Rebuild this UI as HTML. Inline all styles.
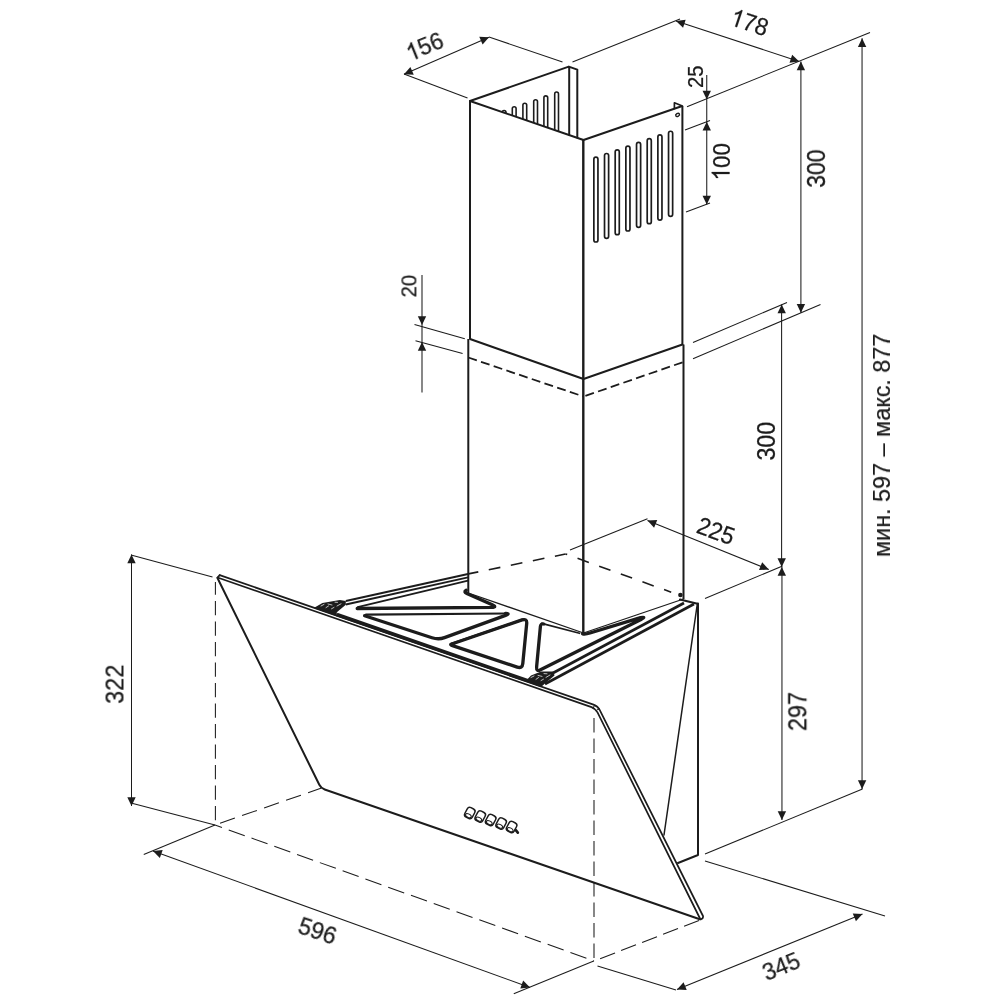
<!DOCTYPE html>
<html><head><meta charset="utf-8"><title>Hood dimensions</title>
<style>
html,body{margin:0;padding:0;background:#fff;}
body{width:1000px;height:1000px;overflow:hidden;}
svg{display:block;font-family:"Liberation Sans",sans-serif;}
</style></head><body>
<svg width="1000" height="1000" viewBox="0 0 1000 1000">
<rect width="1000" height="1000" fill="#fff"/>
<line x1="404" y1="74" x2="467.5" y2="98" stroke="#1c1c1c" stroke-width="1.05" stroke-linecap="butt"/>
<line x1="489" y1="37" x2="562.5" y2="62" stroke="#1c1c1c" stroke-width="1.05" stroke-linecap="butt"/>
<line x1="404" y1="74.3" x2="489" y2="37.2" stroke="#1c1c1c" stroke-width="1.05" stroke-linecap="butt"/>
<polygon points="404.00,74.30 410.39,66.93 413.75,74.63" fill="#1c1c1c"/>
<polygon points="489.00,37.20 482.61,44.57 479.25,36.87" fill="#1c1c1c"/>
<line x1="572.5" y1="62" x2="680" y2="19" stroke="#1c1c1c" stroke-width="1.05" stroke-linecap="butt"/>
<line x1="687" y1="106.7" x2="870" y2="32.5" stroke="#1c1c1c" stroke-width="1.05" stroke-linecap="butt"/>
<line x1="676" y1="21" x2="799.2" y2="61.4" stroke="#1c1c1c" stroke-width="1.05" stroke-linecap="butt"/>
<polygon points="676.00,21.00 685.67,19.76 683.05,27.74" fill="#1c1c1c"/>
<polygon points="799.20,61.40 789.53,62.64 792.15,54.66" fill="#1c1c1c"/>
<line x1="706.75" y1="75" x2="706.75" y2="204.5" stroke="#1c1c1c" stroke-width="1.05" stroke-linecap="butt"/>
<polygon points="706.75,99.50 702.55,90.70 710.95,90.70" fill="#1c1c1c"/>
<polygon points="706.75,121.75 710.95,130.55 702.55,130.55" fill="#1c1c1c"/>
<polygon points="706.75,204.50 702.55,195.70 710.95,195.70" fill="#1c1c1c"/>
<line x1="685" y1="130" x2="710" y2="120.5" stroke="#1c1c1c" stroke-width="1.05" stroke-linecap="butt"/>
<line x1="686" y1="212" x2="710" y2="203" stroke="#1c1c1c" stroke-width="1.05" stroke-linecap="butt"/>
<line x1="800.9" y1="61.4" x2="800.9" y2="312.8" stroke="#1c1c1c" stroke-width="1.05" stroke-linecap="butt"/>
<polygon points="800.90,61.40 805.10,70.20 796.70,70.20" fill="#1c1c1c"/>
<polygon points="800.90,312.80 796.70,304.00 805.10,304.00" fill="#1c1c1c"/>
<line x1="693" y1="358.75" x2="820.5" y2="304.5" stroke="#1c1c1c" stroke-width="1.05" stroke-linecap="butt"/>
<line x1="781.6" y1="304.4" x2="781.6" y2="567" stroke="#1c1c1c" stroke-width="1.05" stroke-linecap="butt"/>
<line x1="781.95" y1="567" x2="781.95" y2="820" stroke="#1c1c1c" stroke-width="1.05" stroke-linecap="butt"/>
<polygon points="781.70,304.40 785.90,313.20 777.50,313.20" fill="#1c1c1c"/>
<polygon points="781.70,567.00 777.50,558.20 785.90,558.20" fill="#1c1c1c"/>
<polygon points="781.80,567.00 786.00,575.80 777.60,575.80" fill="#1c1c1c"/>
<polygon points="781.90,820.00 777.70,811.20 786.10,811.20" fill="#1c1c1c"/>
<line x1="693" y1="342.5" x2="787" y2="302.5" stroke="#1c1c1c" stroke-width="1.05" stroke-linecap="butt"/>
<line x1="862.05" y1="38.2" x2="862.05" y2="789" stroke="#1c1c1c" stroke-width="1.05" stroke-linecap="butt"/>
<polygon points="862.10,38.20 866.30,47.00 857.90,47.00" fill="#1c1c1c"/>
<polygon points="862.10,789.00 857.90,780.20 866.30,780.20" fill="#1c1c1c"/>
<line x1="705" y1="854" x2="862.5" y2="789" stroke="#1c1c1c" stroke-width="1.05" stroke-linecap="butt"/>
<line x1="570" y1="550" x2="647.5" y2="518.75" stroke="#1c1c1c" stroke-width="1.05" stroke-linecap="butt"/>
<line x1="647.5" y1="520.5" x2="768.75" y2="569.5" stroke="#1c1c1c" stroke-width="1.05" stroke-linecap="butt"/>
<polygon points="647.50,520.50 657.23,519.90 654.09,527.69" fill="#1c1c1c"/>
<polygon points="768.75,569.50 759.02,570.10 762.16,562.31" fill="#1c1c1c"/>
<line x1="705" y1="598.5" x2="782.5" y2="566" stroke="#1c1c1c" stroke-width="1.05" stroke-linecap="butt"/>
<line x1="422" y1="275" x2="422" y2="392.5" stroke="#1c1c1c" stroke-width="1.05" stroke-linecap="butt"/>
<polygon points="422.00,325.00 417.80,316.20 426.20,316.20" fill="#1c1c1c"/>
<polygon points="422.00,342.00 426.20,350.80 417.80,350.80" fill="#1c1c1c"/>
<line x1="414.5" y1="324.4" x2="464.8" y2="338.7" stroke="#1c1c1c" stroke-width="1.05" stroke-linecap="butt"/>
<line x1="415.5" y1="340.7" x2="462.6" y2="353.6" stroke="#1c1c1c" stroke-width="1.05" stroke-linecap="butt"/>
<line x1="131.5" y1="554.5" x2="131.5" y2="806" stroke="#1c1c1c" stroke-width="1.05" stroke-linecap="butt"/>
<polygon points="131.50,554.50 135.70,563.30 127.30,563.30" fill="#1c1c1c"/>
<polygon points="131.50,806.00 127.30,797.20 135.70,797.20" fill="#1c1c1c"/>
<line x1="131" y1="555" x2="212.5" y2="577" stroke="#1c1c1c" stroke-width="1.05" stroke-linecap="butt"/>
<line x1="131" y1="803" x2="215" y2="825" stroke="#1c1c1c" stroke-width="1.05" stroke-linecap="butt"/>
<line x1="153" y1="851" x2="530" y2="987.5" stroke="#1c1c1c" stroke-width="1.05" stroke-linecap="butt"/>
<polygon points="153.00,851.00 162.70,850.05 159.84,857.94" fill="#1c1c1c"/>
<polygon points="530.00,987.50 520.30,988.45 523.16,980.56" fill="#1c1c1c"/>
<line x1="143.75" y1="854.5" x2="215" y2="825" stroke="#1c1c1c" stroke-width="1.05" stroke-linecap="butt"/>
<line x1="513.75" y1="993.75" x2="593.75" y2="961" stroke="#1c1c1c" stroke-width="1.05" stroke-linecap="butt"/>
<line x1="677" y1="989.5" x2="862.5" y2="914" stroke="#1c1c1c" stroke-width="1.05" stroke-linecap="butt"/>
<polygon points="677.00,989.50 683.57,982.29 686.73,990.07" fill="#1c1c1c"/>
<polygon points="862.50,914.00 855.93,921.21 852.77,913.43" fill="#1c1c1c"/>
<line x1="597.5" y1="966" x2="676" y2="990" stroke="#1c1c1c" stroke-width="1.05" stroke-linecap="butt"/>
<line x1="705" y1="861" x2="885" y2="916" stroke="#1c1c1c" stroke-width="1.05" stroke-linecap="butt"/>
<line x1="215.4" y1="581.9" x2="215.4" y2="821" stroke="#1c1c1c" stroke-width="1.05" stroke-dasharray="14.3 6.2" stroke-dashoffset="1.5"/>
<line x1="215" y1="825" x2="594" y2="961" stroke="#1c1c1c" stroke-width="1.05" stroke-dasharray="17 7.2" stroke-dashoffset="9.6"/>
<line x1="321.5" y1="788" x2="215" y2="825" stroke="#1c1c1c" stroke-width="1.05" stroke-dasharray="15.7 7.6" stroke-dashoffset="1.5"/>
<line x1="594" y1="718" x2="594" y2="960" stroke="#1c1c1c" stroke-width="1.05" stroke-dasharray="14.4 6.1" stroke-dashoffset="0"/>
<line x1="699" y1="920.5" x2="594" y2="961" stroke="#1c1c1c" stroke-width="1.05" stroke-dasharray="16 6.5" stroke-dashoffset="0"/>
<path d="M470,101 L470,339 M468.3,339 L468.3,593 M682.4,106 L682.4,344.5 M683.5,344.5 L683.5,599" fill="none" stroke="#1c1c1c" stroke-width="2.0" stroke-linejoin="round" stroke-linecap="butt" />
<path d="M583.3,140 L583.3,633" fill="none" stroke="#1c1c1c" stroke-width="2.4" stroke-linejoin="round" stroke-linecap="butt" />
<path d="M470,101 L568.8,66.6 L577.3,69.6 L577.3,137.6 M569.2,67 L569.2,134.8" fill="none" stroke="#1c1c1c" stroke-width="2.0" stroke-linejoin="round" stroke-linecap="round" />
<path d="M470,101 L583.5,140 L681.5,106.2" fill="none" stroke="#1c1c1c" stroke-width="2.0" stroke-linejoin="round" stroke-linecap="round" />
<path d="M674.4,108.4 L674.4,102.8 L682.4,106" fill="none" stroke="#1c1c1c" stroke-width="1.7" stroke-linejoin="round" stroke-linecap="round" />
<ellipse cx="677.6" cy="114.9" rx="2.0" ry="1.5" transform="rotate(-30 677.6 114.9)" fill="none" stroke="#1c1c1c" stroke-width="1.4"/>
<path d="M470,339 L583.5,379 L682.4,344.5" fill="none" stroke="#1c1c1c" stroke-width="2.0" stroke-linejoin="round" stroke-linecap="round" />
<path d="M468.3,357.5 L583.5,396.5" fill="none" stroke="#1c1c1c" stroke-width="1.8" stroke-linejoin="round" stroke-linecap="butt" stroke-dasharray="9 4.4" />
<path d="M583.5,396.5 L683.5,362" fill="none" stroke="#1c1c1c" stroke-width="1.8" stroke-linejoin="round" stroke-linecap="butt" stroke-dasharray="9 4.4" stroke-dashoffset="-2"/>
<path d="M468.3,593 L583.5,633 L683.5,599" fill="none" stroke="#1c1c1c" stroke-width="1.3" stroke-linejoin="round" stroke-linecap="round" />
<rect x="593.85" y="157.20" width="4.1" height="84.80" rx="2.05" fill="none" stroke="#1c1c1c" stroke-width="1.7"/>
<rect x="604.52" y="153.49" width="4.1" height="84.85" rx="2.05" fill="none" stroke="#1c1c1c" stroke-width="1.7"/>
<rect x="615.19" y="149.78" width="4.1" height="84.90" rx="2.05" fill="none" stroke="#1c1c1c" stroke-width="1.7"/>
<rect x="625.86" y="146.07" width="4.1" height="84.95" rx="2.05" fill="none" stroke="#1c1c1c" stroke-width="1.7"/>
<rect x="636.53" y="142.36" width="4.1" height="85.00" rx="2.05" fill="none" stroke="#1c1c1c" stroke-width="1.7"/>
<rect x="647.20" y="138.65" width="4.1" height="85.05" rx="2.05" fill="none" stroke="#1c1c1c" stroke-width="1.7"/>
<rect x="657.87" y="134.94" width="4.1" height="85.10" rx="2.05" fill="none" stroke="#1c1c1c" stroke-width="1.7"/>
<rect x="668.54" y="131.23" width="4.1" height="85.15" rx="2.05" fill="none" stroke="#1c1c1c" stroke-width="1.7"/>
<clipPath id="cl"><polygon points="470,101 568.8,66.6 568.8,134.6"/></clipPath>
<g clip-path="url(#cl)">
<rect x="502.20" y="110.50" width="3.8" height="60" rx="1.9" fill="none" stroke="#1c1c1c" stroke-width="1.6"/>
<rect x="512.30" y="106.70" width="3.8" height="60" rx="1.9" fill="none" stroke="#1c1c1c" stroke-width="1.6"/>
<rect x="522.90" y="103.20" width="3.8" height="60" rx="1.9" fill="none" stroke="#1c1c1c" stroke-width="1.6"/>
<rect x="533.70" y="99.70" width="3.8" height="60" rx="1.9" fill="none" stroke="#1c1c1c" stroke-width="1.6"/>
<rect x="543.90" y="95.90" width="3.8" height="60" rx="1.9" fill="none" stroke="#1c1c1c" stroke-width="1.6"/>
<rect x="554.70" y="92.00" width="3.8" height="60" rx="1.9" fill="none" stroke="#1c1c1c" stroke-width="1.6"/>
</g>
<line x1="468.4" y1="573.9" x2="565.5" y2="554" stroke="#1c1c1c" stroke-width="1.6" stroke-dasharray="11.8 10.7" stroke-dashoffset="1.7"/>
<line x1="565.5" y1="554" x2="671.2" y2="592.2" stroke="#1c1c1c" stroke-width="1.6" stroke-dasharray="12 11" stroke-dashoffset="10.2"/>
<line x1="345.8" y1="601" x2="468" y2="574" stroke="#1c1c1c" stroke-width="1.8" stroke-linecap="butt"/>
<line x1="345.8" y1="604.5" x2="468" y2="577.4" stroke="#1c1c1c" stroke-width="1.8" stroke-linecap="butt"/>
<path d="M468,580.6 L357.6,607.2" fill="none" stroke="#1c1c1c" stroke-width="1.8" stroke-linejoin="round" stroke-linecap="round" />
<path d="M357.2,608.5 L491.5,607.3 Q497.5,607.2 492.3,604.8 L466.8,593.4 Q463.3,591.8 466.2,590.3" fill="none" stroke="#1c1c1c" stroke-width="3.3" stroke-linejoin="round" stroke-linecap="round" />
<path d="M366,614.6 L506,613.5" fill="none" stroke="#1c1c1c" stroke-width="2.1" stroke-linejoin="round" stroke-linecap="round" />
<path d="M364.6,615.8 L432,637.7 Q438.5,639.8 444.5,637.6 L505.5,615.4 Q510.8,613.4 505.5,613.5" fill="none" stroke="#1c1c1c" stroke-width="3.3" stroke-linejoin="round" stroke-linecap="round" />
<path d="M452,643.6 L523.5,619.4" fill="none" stroke="#1c1c1c" stroke-width="2.3" stroke-linejoin="round" stroke-linecap="round" />
<path d="M451,644.2 L522,619.9 Q527.2,618.3 526.7,623.5 L522.8,663.5 Q522.3,668.8 517.2,667.1 L452.5,645.6 Q449.5,644.6 451.6,644" fill="none" stroke="#1c1c1c" stroke-width="3.3" stroke-linejoin="round" stroke-linecap="round" />
<path d="M541.6,623.4 L579.5,633.3" fill="none" stroke="#1c1c1c" stroke-width="1.7" stroke-linejoin="round" stroke-linecap="round" />
<path d="M582.6,633.8 Q585.5,634.4 590,633 L640.5,617.7 Q646.5,616.2 641.5,619.2 L540.5,669.8 Q536.2,672 536.6,667 L540.4,626.5 Q540.7,623.3 543.8,624" fill="none" stroke="#1c1c1c" stroke-width="3.3" stroke-linejoin="round" stroke-linecap="round" />
<line x1="553" y1="673" x2="684" y2="603" stroke="#1c1c1c" stroke-width="2.7" stroke-linecap="butt"/>
<line x1="545" y1="684" x2="694" y2="604" stroke="#1c1c1c" stroke-width="2.7" stroke-linecap="butt"/>
<path d="M680,599.5 L697.5,603.8" fill="none" stroke="#1c1c1c" stroke-width="2.2" stroke-linejoin="round" stroke-linecap="round" />
<circle cx="680.4" cy="595" r="2.3" fill="#1c1c1c"/>
<path d="M219.7,575.13 L593.5,704.65 Q597.8,706.2 599.8,710.2 L703,916 Q703.6,918.6 700.8,919.4" fill="none" stroke="#1c1c1c" stroke-width="1.7" stroke-linejoin="round" stroke-linecap="round" />
<path d="M217.5,577.56 L591.5,707.15 Q595.6,708.7 597.5,712.4 L700,918.5" fill="none" stroke="#1c1c1c" stroke-width="1.7" stroke-linejoin="round" stroke-linecap="round" />
<path d="M217.5,577.56 L219.7,575.13" fill="none" stroke="#1c1c1c" stroke-width="1.7" stroke-linejoin="round" stroke-linecap="round" />
<path d="M594.5,705.3 L593.2,708 M599.2,708.8 L596.6,710.2" fill="none" stroke="#1c1c1c" stroke-width="1.0" stroke-linejoin="round" stroke-linecap="round" />
<path d="M336.8,614.50 L540,684.91" fill="none" stroke="#1c1c1c" stroke-width="3.5" stroke-linejoin="round" stroke-linecap="butt" />
<polygon points="314.6,607.41 322.4,603 339.8,600 345.8,600.9 345.8,604.8 336.8,612.3 336.8,616.20 314.6,608.51" fill="#1c1c1c"/>
<path d="M321,606 L324,604.4 M326,607.6 L328.5,606 M331.5,608.8 L334,607.4 M337,606 L341,603.8 M328,604 L332,605 M335,602.2 L337.5,602.4" fill="none" stroke="#fff" stroke-width="0.7" stroke-linejoin="round" stroke-linecap="round" />
<polygon points="526,680.76 531,675.6 541,671.6 553.5,671.6 554.5,675.6 545,683.4 541,686.96" fill="#1c1c1c"/>
<path d="M531,677.5 L534,676 M536,679.3 L538.5,677.6 M541,680.6 L543.5,679.2 M546,677.4 L550,675 M538,675.4 L542,676.4 M544,673.6 L547,673.8" fill="none" stroke="#fff" stroke-width="0.7" stroke-linejoin="round" stroke-linecap="round" />
<path d="M217.6,578.2 L319.3,784.8 Q321,788.3 324.7,789.5 L699.8,919.3" fill="none" stroke="#1c1c1c" stroke-width="2.0" stroke-linejoin="round" stroke-linecap="round" />
<path d="M698,603.5 L698,855 L678,863" fill="none" stroke="#1c1c1c" stroke-width="2.0" stroke-linejoin="round" stroke-linecap="round" />
<path d="M697.3,604 L664,835" fill="none" stroke="#1c1c1c" stroke-width="1.5" stroke-linejoin="round" stroke-linecap="round" />
<g transform="translate(469.80,813.00) rotate(28)"><rect x="-4.2" y="-5.3" width="8.4" height="10.6" rx="2.8" fill="#fff" stroke="#1c1c1c" stroke-width="1.5"/><ellipse cx="0" cy="3" rx="3.1" ry="1.7" fill="none" stroke="#1c1c1c" stroke-width="1.0"/></g>
<g transform="translate(480.25,816.50) rotate(28)"><rect x="-4.2" y="-5.3" width="8.4" height="10.6" rx="2.8" fill="#fff" stroke="#1c1c1c" stroke-width="1.5"/><ellipse cx="0" cy="3" rx="3.1" ry="1.7" fill="none" stroke="#1c1c1c" stroke-width="1.0"/></g>
<g transform="translate(490.70,820.00) rotate(28)"><rect x="-4.2" y="-5.3" width="8.4" height="10.6" rx="2.8" fill="#fff" stroke="#1c1c1c" stroke-width="1.5"/><ellipse cx="0" cy="3" rx="3.1" ry="1.7" fill="none" stroke="#1c1c1c" stroke-width="1.0"/></g>
<g transform="translate(501.15,823.50) rotate(28)"><rect x="-4.2" y="-5.3" width="8.4" height="10.6" rx="2.8" fill="#fff" stroke="#1c1c1c" stroke-width="1.5"/><ellipse cx="0" cy="3" rx="3.1" ry="1.7" fill="none" stroke="#1c1c1c" stroke-width="1.0"/></g>
<g transform="translate(511.60,827.00) rotate(28)"><rect x="-4.2" y="-5.3" width="8.4" height="10.6" rx="2.8" fill="#fff" stroke="#1c1c1c" stroke-width="1.5"/><ellipse cx="0" cy="3" rx="3.1" ry="1.7" fill="none" stroke="#1c1c1c" stroke-width="1.0"/></g>
<path d="M515.8,830.2 L517.8,832.6" fill="none" stroke="#1c1c1c" stroke-width="2.7" stroke-linejoin="round" stroke-linecap="round" />
<g opacity="0.999" stroke="#1c1c1c" stroke-width="0.25">
<g transform="translate(425,46.4) rotate(-22) scale(0.955,1)"><path transform="translate(-20.34,8.40) scale(24)" d="M0.373,0 H0.285 V-0.560 Q0.253,-0.530 0.202,-0.500 Q0.150,-0.469 0.109,-0.454 V-0.539 Q0.183,-0.574 0.239,-0.624 Q0.294,-0.673 0.317,-0.720 H0.373 Z" fill="#1c1c1c" vector-effect="non-scaling-stroke"/><text x="-7.00" y="8.40" font-size="24" fill="#1c1c1c">56</text></g>
<g transform="translate(750,22.5) rotate(18.4) scale(0.93,1)"><path transform="translate(-20.82,8.57) scale(24.5)" d="M0.373,0 H0.285 V-0.560 Q0.253,-0.530 0.202,-0.500 Q0.150,-0.469 0.109,-0.454 V-0.539 Q0.183,-0.574 0.239,-0.624 Q0.294,-0.673 0.317,-0.720 H0.373 Z" fill="#1c1c1c" vector-effect="non-scaling-stroke"/><text x="-7.20" y="8.57" font-size="24.5" fill="#1c1c1c">78</text></g>
<text x="-12.21" y="7.63" transform="translate(695.6,76.6) rotate(-90) scale(0.93,1)" font-size="21.8" fill="#1c1c1c">25</text>
<g transform="translate(720.85,161.35) rotate(-90) scale(0.905,1)"><path transform="translate(-21.08,8.68) scale(24.8)" d="M0.373,0 H0.285 V-0.560 Q0.253,-0.530 0.202,-0.500 Q0.150,-0.469 0.109,-0.454 V-0.539 Q0.183,-0.574 0.239,-0.624 Q0.294,-0.673 0.317,-0.720 H0.373 Z" fill="#1c1c1c" vector-effect="non-scaling-stroke"/><text x="-7.29" y="8.68" font-size="24.8" fill="#1c1c1c">00</text></g>
<text x="-20.98" y="8.82" transform="translate(816,168.65) rotate(-90) scale(0.916,1)" font-size="25.2" fill="#1c1c1c">300</text>
<text x="-21.31" y="8.96" transform="translate(766.1,441.2) rotate(-90) scale(0.909,1)" font-size="25.6" fill="#1c1c1c">300</text>
<text x="-12.54" y="7.84" transform="translate(408.4,286.1) rotate(-90) scale(0.906,1)" font-size="22.4" fill="#1c1c1c">20</text>
<text x="-116.75" y="8.54" transform="translate(881,445) rotate(-90) scale(0.959,1)" font-size="24.4" fill="#1c1c1c">мин. 597 – макс. 877</text>
<text x="-20.52" y="8.57" transform="translate(716,530.8) rotate(20) scale(0.93,1)" font-size="24.5" fill="#1c1c1c">225</text>
<text x="-20.73" y="8.71" transform="translate(797.3,711.55) rotate(-90) scale(0.939,1)" font-size="24.9" fill="#1c1c1c">297</text>
<text x="-20.85" y="8.82" transform="translate(114.5,684.4) rotate(-90) scale(0.93,1)" font-size="25.2" fill="#1c1c1c">322</text>
<text x="-20.34" y="8.57" transform="translate(317.6,930.2) rotate(18.5) scale(0.95,1)" font-size="24.5" fill="#1c1c1c">596</text>
<text x="-20.40" y="8.57" transform="translate(780.9,965.8) rotate(-22) scale(0.93,1)" font-size="24.5" fill="#1c1c1c">345</text>
</g>
</svg>
</body></html>
